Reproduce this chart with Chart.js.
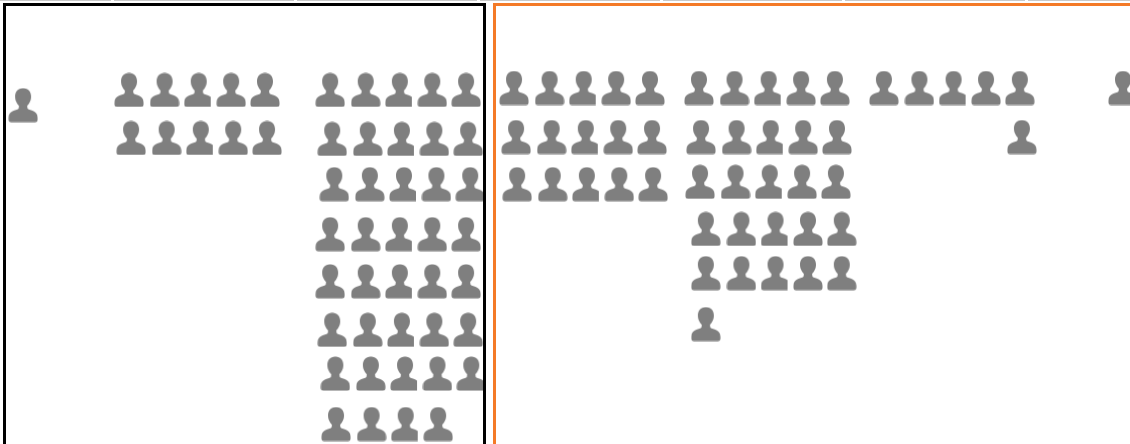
<!DOCTYPE html>
<html>
<head>
<meta charset="utf-8">
<title>Pictogram</title>
<script src="https://cdn.jsdelivr.net/npm/chart.js@4/dist/chart.umd.min.js"></script>
<style>
  html, body { margin: 0; padding: 0; background: #fff; overflow: hidden; }
  #wrap { width: 1130px; height: 444px; }
</style>
</head>
<body>
<div id="wrap"><canvas id="chart" role="img" aria-label="Pictogram of seven groups of people, in a black and an orange frame"></canvas></div>
<script>
// One icon = one person, five icons to a row
const groups = ['A', 'B', 'C', 'D', 'E', 'F', 'G'];
const counts = [1, 10, 39, 15, 26, 6, 1];

// Layout, in icon pitches. Original icons are hand placed so the rows wobble a bit
const colPitch = 34.5;
const rowPitch = 47.6;
const groupStart = [0.67, 3.74, 9.57, 14.9, 20.26, 25.62, 32.55];
const groupFirstCol = [0, 0, 0, 0, 0, 4, 0];
const colOffset = [0, 1.03, 2.02, 2.96, 3.94];
const rowShift = [
  [0],
  [0, 0.06],
  [0, 0.06, 0.12, 0, 0, 0.06, 0.15, 0.17],
  [0, 0.06, 0.09],
  [0, 0.06, 0.03, 0.2, 0.2, 0.2],
  [0, 0.06],
  [0]
];
const rowPos = [
  [0.36],
  [0.04, 1.05],
  [0.04, 1.07, 2.02, 3.07, 4.06, 5.08, 6.0, 7.06],
  [0, 1.03, 2.02],
  [0, 1.03, 1.97, 2.96, 3.89, 4.96],
  [0, 1.03],
  [0]
];

const iconColor = '#7f7f7f';

function personIcon(cutRight) {
  const c = document.createElement('canvas');
  c.width = 30;
  c.height = 35;
  const g = c.getContext('2d');
  g.fillStyle = iconColor;
  // head, egg shaped with the narrow end down
  g.beginPath();
  g.moveTo(15, 0.5);
  g.bezierCurveTo(20.5, 0.5, 23, 4.5, 23, 9);
  g.bezierCurveTo(23, 14, 20, 17, 19, 18.5);
  g.lineTo(11, 18.5);
  g.bezierCurveTo(10, 17, 7, 14, 7, 9);
  g.bezierCurveTo(7, 4.5, 9.5, 0.5, 15, 0.5);
  g.closePath();
  g.fill();
  // neck and shoulders
  g.beginPath();
  g.moveTo(11, 18);
  g.lineTo(19, 18);
  g.lineTo(19.5, 21);
  g.bezierCurveTo(22, 23, 29.5, 22.5, 29.5, 30);
  g.lineTo(29.5, 32);
  g.quadraticCurveTo(29.5, 34.5, 27, 34.5);
  g.lineTo(3, 34.5);
  g.quadraticCurveTo(0.5, 34.5, 0.5, 32);
  g.lineTo(0.5, 30);
  g.bezierCurveTo(0.5, 22.5, 8, 23, 10.5, 21);
  g.closePath();
  g.fill();
  if (cutRight) g.clearRect(27, 0, 3, 35);
  return c;
}

const iconFull = personIcon(false);
const iconCut = personIcon(true);

const points = [];
const styles = [];
groups.forEach((name, i) => {
  for (let n = 0; n < counts[i]; n++) {
    const col = n % 5 + (n < 5 ? 0 : groupFirstCol[i]);
    const row = Math.floor(n / 5);
    points.push({ x: groupStart[i] + colOffset[col] + rowShift[i][row], y: rowPos[i][row] });
    styles.push(col === 2 ? iconCut : iconFull);
  }
});

const framePlugin = {
  id: 'frames',
  afterDatasetsDraw(chart) {
    const ctx = chart.ctx;
    ctx.save();
    // bottom edge of the row above
    ctx.strokeStyle = '#c9c9c9';
    ctx.lineWidth = 2;
    [[0, 111], [114, 294], [297, 477], [480, 660], [663, 842], [845, 1025], [1028, 1130]].forEach(s => {
      ctx.beginPath();
      ctx.moveTo(s[0], 0);
      ctx.lineTo(s[1], 0);
      ctx.stroke();
    });
    ctx.lineWidth = 3;
    ctx.strokeStyle = '#000000';
    ctx.strokeRect(4.5, 4.5, 480, 460);
    ctx.strokeStyle = '#f47a28';
    ctx.strokeRect(494.5, 4.5, 660, 460);
    ctx.restore();
  }
};

new Chart(document.getElementById('chart'), {
  type: 'scatter',
  data: {
    datasets: [{
      label: 'People',
      data: points,
      pointStyle: styles,
      pointRadius: 15,
      pointHoverRadius: 15,
      showLine: false
    }]
  },
  options: {
    responsive: true,
    maintainAspectRatio: false,
    animation: false,
    layout: { padding: 0, autoPadding: false },
    plugins: { legend: { display: false }, tooltip: { enabled: false } },
    scales: {
      x: { display: false, min: 0, max: 1130 / colPitch },
      y: { display: false, reverse: true, min: -88 / rowPitch, max: 356 / rowPitch }
    }
  },
  plugins: [framePlugin]
});
</script>
</body>
</html>
